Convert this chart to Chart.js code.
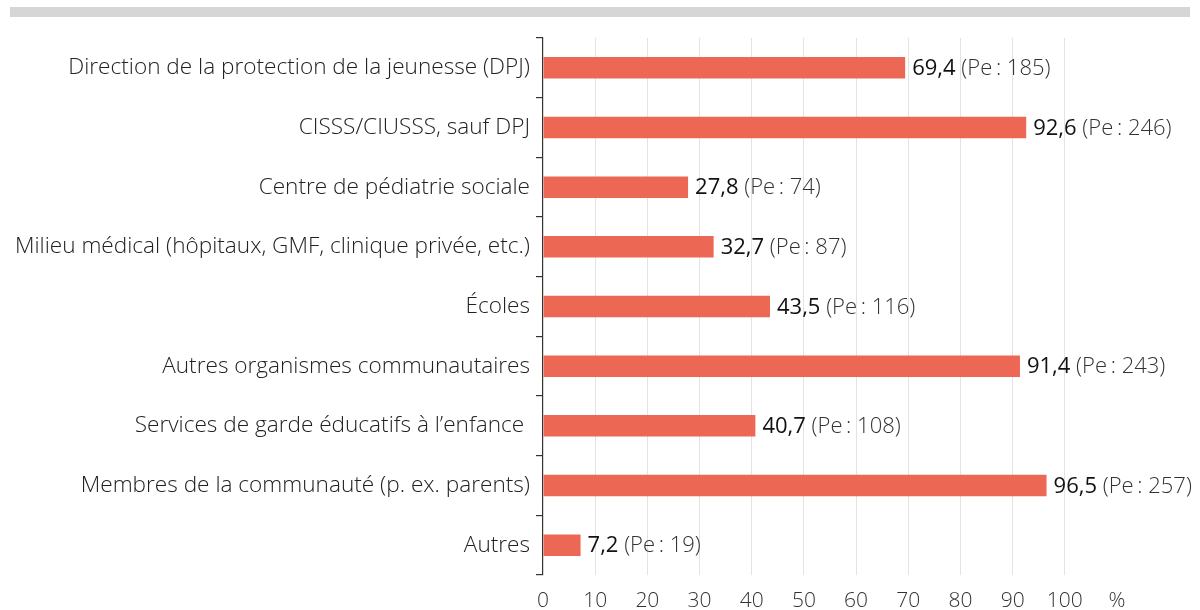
<!DOCTYPE html>
<html lang="fr">
<head>
<meta charset="utf-8">
<script src="https://cdn.jsdelivr.net/npm/chart.js@4"></script>
<style>
  html, body { margin: 0; padding: 0; background: #fff; }
  #wrap { position: relative; width: 1200px; height: 610px; }
  #topbar { position: absolute; left: 10px; top: 7px; width: 1180px; height: 10px; background: #d6d6d6; }
  #chart { position: absolute; left: 0; top: 0; }
</style>
</head>
<body>
<div id="wrap">
  <div id="topbar"></div>
  <canvas id="chart" width="1200" height="610"></canvas>
</div>
<script>
const categories = [
  'Direction de la protection de la jeunesse (DPJ)',
  'CISSS/CIUSSS, sauf DPJ',
  'Centre de pédiatrie sociale',
  'Milieu médical (hôpitaux, GMF, clinique privée, etc.)',
  'Écoles',
  'Autres organismes communautaires',
  'Services de garde éducatifs à l’enfance ',
  'Membres de la communauté (p. ex. parents)',
  'Autres'
];
const percentValues = [69.4, 92.6, 27.8, 32.7, 43.5, 91.4, 40.7, 96.5, 7.2];
const peCounts = [185, 246, 74, 87, 116, 243, 108, 257, 19];
const xTicks = [0, 10, 20, 30, 40, 50, 60, 70, 80, 90, 100, 110]; // 110 shows the % sign

const FONT = '"Open Sans", "Liberation Sans", sans-serif';

// draws "69,4 (Pe : 185)" after each bar
const valueLabels = {
  id: 'valueLabels',
  afterDatasetsDraw(chart) {
    const ctx = chart.ctx;
    const meta = chart.getDatasetMeta(0);
    ctx.save();
    ctx.textBaseline = 'middle';
    ctx.textAlign = 'left';
    meta.data.forEach((bar, i) => {
      const num = percentValues[i].toFixed(1).replace('.', ',');
      let x = bar.x + 7;
      const y = bar.y + 1;
      ctx.font = '400 22px ' + FONT;
      ctx.fillStyle = '#111';
      ctx.fillText(num, x, y);
      x += ctx.measureText(num).width;
      ctx.font = '300 22px ' + FONT;
      ctx.fillStyle = '#333';
      ctx.fillText(' (Pe\u2009: ' + peCounts[i] + ')', x, y);
    });
    ctx.restore();
  }
};

const ctx = document.getElementById('chart').getContext('2d');
new Chart(ctx, {
  type: 'bar',
  data: {
    labels: categories,
    datasets: [{
      data: percentValues,
      backgroundColor: '#ec6854',
      borderWidth: 0,
      barPercentage: 0.36,
      categoryPercentage: 1
    }]
  },
  options: {
    indexAxis: 'y',
    responsive: false,
    animation: false,
    layout: { padding: { top: 38, right: 83, left: 0, bottom: 0 } },
    plugins: {
      legend: { display: false },
      tooltip: { enabled: false }
    },
    scales: {
      x: {
        min: 0,
        max: 110,
        afterBuildTicks: (scale) => { scale.ticks = xTicks.map(v => ({ value: v })); },
        afterFit: (scale) => { scale.height = 35; },
        border: { display: false },
        grid: {
          drawTicks: false,
          lineWidth: 1,
          color: (c) => (c.tick && (c.tick.value === 0 || c.tick.value === 110)) ? 'rgba(0,0,0,0)' : '#e3e3e3'
        },
        ticks: {
          padding: 13,
          color: '#333',
          font: { family: FONT, size: 21, weight: '300' },
          callback: (v) => v === 110 ? '%' : String(v)
        }
      },
      y: {
        afterFit: (scale) => { scale.width = 543; },
        border: { display: true, color: '#333', width: 1.2 },
        grid: {
          drawOnChartArea: false,
          offset: true,
          tickLength: 7,
          color: '#333',
          lineWidth: 1.2
        },
        ticks: {
          padding: 6,
          color: '#222',
          font: { family: FONT, size: 22.6, weight: '300' }
        }
      }
    }
  },
  plugins: [valueLabels]
});
</script>
</body>
</html>
